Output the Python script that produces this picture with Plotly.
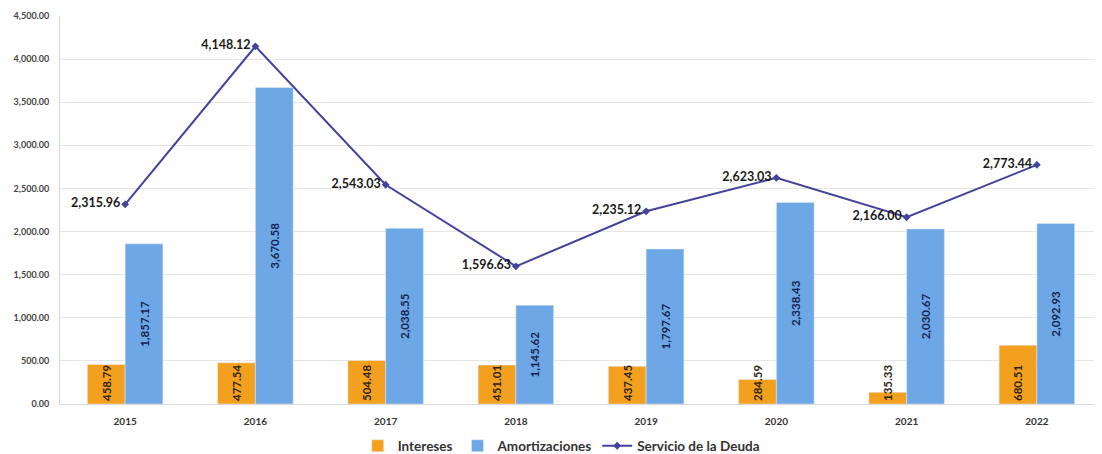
import plotly.graph_objects as go

years = ["2015", "2016", "2017", "2018", "2019", "2020", "2021", "2022"]
intereses = [458.79, 477.54, 504.48, 451.01, 437.45, 284.59, 135.33, 680.51]
amortizaciones = [1857.17, 3670.58, 2038.55, 1145.62, 1797.67, 2338.43, 2030.67, 2092.93]
servicio = [2315.96, 4148.12, 2543.03, 1596.63, 2235.12, 2623.03, 2166.00, 2773.44]
y_ticks = [0, 500, 1000, 1500, 2000, 2500, 3000, 3500, 4000, 4500]

FONT = "Lato"
fig = go.Figure()
fig.add_trace(go.Bar(
    x=years, y=intereses, name="Intereses",
    marker=dict(color="#F4A01F"),
    text=[f"{v:,.2f}" for v in intereses],
    textposition="inside", insidetextanchor="start", textangle=-90,
    constraintext="none",
    textfont=dict(family=FONT, size=11.5, color="#2e2410", weight="bold"),
))
fig.add_trace(go.Bar(
    x=years, y=amortizaciones, name="Amortizaciones",
    marker=dict(color="#6EA7E6"),
    text=[f"{v:,.2f}" for v in amortizaciones],
    textposition="inside", insidetextanchor="middle", textangle=-90,
    constraintext="none",
    textfont=dict(family=FONT, size=11.5, color="#16244f", weight="bold"),
))
fig.add_trace(go.Scatter(
    x=years, y=servicio, name="Servicio de la Deuda",
    mode="lines+markers+text",
    line=dict(color="#43429C", width=2),
    marker=dict(symbol="diamond", size=6, color="#43429C"),
    text=[f"{v:,.2f}" for v in servicio],
    textposition="middle left",
    textfont=dict(family=FONT, size=12.5, color="#1a1a1a", weight="bold"),
))

fig.update_layout(
    width=1094, height=446,
    margin=dict(l=52, r=0, t=8, b=50, autoexpand=False),
    paper_bgcolor="white", plot_bgcolor="white",
    barmode="group", bargap=0.42, bargroupgap=0.0,
    font=dict(family=FONT, color="#444444"),
    showlegend=True,
    legend=dict(orientation="h", x=0.481, xanchor="center",
                yref="container", y=0.018, yanchor="middle",
                font=dict(family=FONT, size=13.5, color="#333333", weight="bold"),
                itemwidth=30, tracegroupgap=0),
    xaxis=dict(showgrid=False, showline=True, linecolor="#d9d9d9", linewidth=1,
               tickfont=dict(family=FONT, size=10, color="#333333", weight="bold"),
               ticks="outside", ticklen=8, tickcolor="rgba(0,0,0,0)"),
    yaxis=dict(range=[0, 4500], tickvals=y_ticks, tickformat=",.2f",
               showgrid=True, gridcolor="#e6e6e6", gridwidth=1,
               showline=True, linecolor="#d9d9d9", zeroline=False,
               tickfont=dict(family=FONT, size=9, color="#444444", weight="bold"),
               ticks="outside", ticklen=8, tickcolor="rgba(0,0,0,0)"),
)
fig.write_html("out.html")
